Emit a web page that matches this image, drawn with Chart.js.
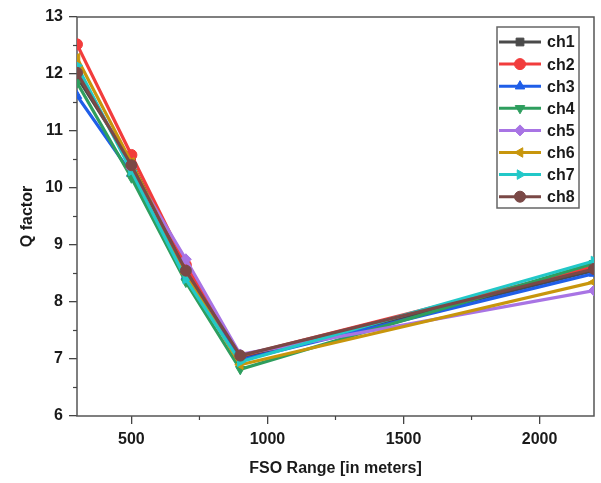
<!DOCTYPE html>
<html>
<head>
<meta charset="utf-8">
<script src="https://cdn.jsdelivr.net/npm/chart.js@4.4.0/dist/chart.umd.min.js"></script>
<style>
html,body{margin:0;padding:0;background:#fff;}
#wrap{width:601px;height:483px;}
</style>
</head>
<body>
<div id="wrap"><canvas id="c" width="601" height="483"></canvas></div>
<script>
const ranges = [300, 500, 700, 900, 2200];
const seriesNames = ['ch1','ch2','ch3','ch4','ch5','ch6','ch7','ch8'];
const ch1 = [11.95, 10.45, 8.58, 7.02, 8.55];
const ch2 = [12.52, 10.58, 8.65, 7.05, 8.62];
const ch3 = [11.62, 10.25, 8.45, 6.98, 8.50];
const ch4 = [11.85, 10.18, 8.35, 6.82, 8.68];
const ch5 = [12.10, 10.35, 8.75, 7.08, 8.20];
const ch6 = [12.28, 10.45, 8.50, 6.90, 8.35];
const ch7 = [12.15, 10.30, 8.40, 6.95, 8.72];
const ch8 = [12.02, 10.40, 8.55, 7.06, 8.58];
const xTicks = [500, 1000, 1500, 2000];
const yTicks = [6, 7, 8, 9, 10, 11, 12, 13];

const values = [ch1, ch2, ch3, ch4, ch5, ch6, ch7, ch8];
const colors = ['#4a4a4a','#f23c3c','#1f5ee8','#2e9e5e','#a874e4','#c8960c','#22c8c8','#7a4846'];
const styles = ['rect','circle','triangle','triangle','rectRot','triangle','triangle','circle'];
const rots = [0,0,0,180,0,-90,90,0];

const FONT = "'Liberation Sans', Arial, sans-serif";

const datasets = values.map((v, i) => ({
  label: seriesNames[i],
  data: ranges.map((x, j) => ({x: x, y: v[j]})),
  borderColor: colors[i],
  backgroundColor: colors[i],
  borderWidth: 3.2,
  pointStyle: styles[i],
  pointRotation: rots[i],
  pointRadius: 5.5,
  pointBorderWidth: 1,
  pointHoverRadius: 5.5,
  tension: 0,
  clip: 0,
  order: 8 - i
}));

const framePlugin = {
  id: 'frame',
  beforeDatasetsDraw(chart) {
    const a = chart.chartArea, ctx = chart.ctx;
    ctx.save();
    ctx.strokeStyle = '#555';
    ctx.lineWidth = 1.5;
    ctx.strokeRect(a.left, a.top, a.right - a.left, a.bottom - a.top);
    ctx.lineWidth = 1.2;
    ctx.strokeStyle = '#444';
    const ys = chart.scales.y, xs = chart.scales.x;
    for (let k = 0; k < yTicks.length - 1; k++) {
      const py = ys.getPixelForValue((yTicks[k] + yTicks[k+1]) / 2);
      ctx.beginPath(); ctx.moveTo(a.left - 4, py); ctx.lineTo(a.left, py); ctx.stroke();
    }
    for (let k = 0; k < xTicks.length - 1; k++) {
      const px = xs.getPixelForValue((xTicks[k] + xTicks[k+1]) / 2);
      ctx.beginPath(); ctx.moveTo(px, a.bottom); ctx.lineTo(px, a.bottom + 4); ctx.stroke();
    }
    ctx.restore();
    ctx.save();
    ctx.beginPath();
    ctx.rect(a.left, a.top, a.right - a.left, a.bottom - a.top);
    ctx.clip();
  },
  afterDatasetsDraw(chart) {
    chart.ctx.restore();
  }
};

const legendPlugin = {
  id: 'boxLegend',
  afterDatasetsDraw(chart) {
    const ctx = chart.ctx;
    const bx = 497, by = 27, bw = 82, bh = 181;
    ctx.save();
    ctx.fillStyle = '#fff';
    ctx.fillRect(bx, by, bw, bh);
    ctx.strokeStyle = '#666';
    ctx.lineWidth = 1.5;
    ctx.strokeRect(bx, by, bw, bh);
    chart.data.datasets.forEach((ds, i) => {
      const y = 42 + i * 22.1;
      ctx.strokeStyle = ds.borderColor;
      ctx.lineWidth = 3;
      ctx.beginPath(); ctx.moveTo(bx + 2, y); ctx.lineTo(bx + 44, y); ctx.stroke();
      ctx.fillStyle = ds.backgroundColor;
      ctx.strokeStyle = ds.borderColor;
      ctx.lineWidth = 1;
      Chart.helpers.drawPoint(ctx, {pointStyle: ds.pointStyle, rotation: ds.pointRotation, radius: 5.5, borderWidth: 1}, bx + 23, y);
      ctx.fillStyle = '#1a1a1a';
      ctx.font = 'bold 16px ' + FONT;
      ctx.textBaseline = 'middle';
      ctx.textAlign = 'left';
      ctx.fillText(ds.label, bx + 50, y + 1);
    });
    ctx.restore();
  }
};

new Chart(document.getElementById('c'), {
  type: 'line',
  data: { datasets: datasets },
  options: {
    responsive: false,
    animation: false,
    events: [],
    layout: { padding: { left: 0, right: 7, top: 17, bottom: 0 } },
    plugins: { legend: { display: false }, tooltip: { enabled: false } },
    scales: {
      x: {
        type: 'linear',
        min: 300, max: 2200,
        afterBuildTicks(s) { s.ticks = xTicks.map(v => ({value: v})); },
        afterFit(s) { s.height = 67; },
        border: { display: false },
        grid: { drawOnChartArea: false, drawTicks: true, tickLength: 8, color: '#444', lineWidth: 1.3 },
        ticks: { color: '#1a1a1a', font: { family: FONT, size: 16, weight: 'bold' }, padding: 6, maxRotation: 0, callback: v => String(v) },
        title: { display: true, text: 'FSO Range [in meters]', color: '#1a1a1a', font: { family: FONT, size: 16, weight: 'bold' }, padding: { top: 0, bottom: 5 } }
      },
      y: {
        type: 'linear',
        min: 6, max: 13,
        afterBuildTicks(s) { s.ticks = yTicks.map(v => ({value: v})); },
        afterFit(s) { s.width = 77; },
        border: { display: false },
        grid: { drawOnChartArea: false, drawTicks: true, tickLength: 8, color: '#444', lineWidth: 1.3 },
        ticks: { color: '#1a1a1a', font: { family: FONT, size: 16, weight: 'bold' }, padding: 6, callback: v => String(v) },
        title: { display: true, text: 'Q factor', color: '#1a1a1a', font: { family: FONT, size: 16, weight: 'bold' }, padding: { top: 18, bottom: 0 } }
      }
    }
  },
  plugins: [framePlugin, legendPlugin]
});
</script>
</body>
</html>
